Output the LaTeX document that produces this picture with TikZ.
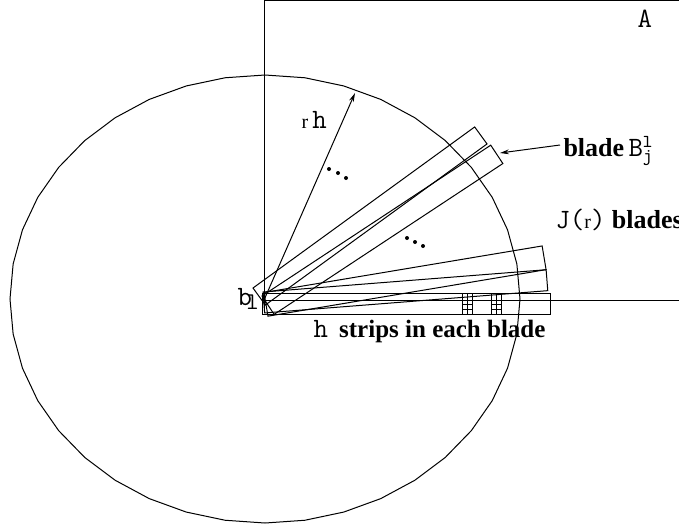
\documentclass[tikz,border=0pt]{standalone}
\usepackage{fontspec}
\setmainfont{Liberation Serif}
\usetikzlibrary{arrows.meta}

\begin{document}
\begin{tikzpicture}[
  x=0.5pt, y=-0.5pt, line width=0.5pt,
  blade/.style={draw},
  lbl/.style={font=\fontsize{13}{15}\selectfont, inner sep=0pt},
  mono/.style={font=\fontsize{14}{16}\selectfont\ttfamily},
  dot/.style={radius=2},
  pointer/.style={-{Stealth[length=4.5pt,width=2.4pt]}}
]
  \useasboundingbox (0,0) rectangle (679,531);

  % Region A and its axes
  \coordinate (O) at (264,300);
  \draw (264,0) -- (264,313);
  \draw (264,0) -- (679,0);
  \draw (O) -- (679,300);

  % Ball of radius r h
  \draw plot[samples=41, domain=0:360] ({265+255*cos(\x)},{299+224*sin(\x)}) -- cycle;

  % Blades
  \draw[blade, shift={(262,293)}] (0,0) rectangle (288,21);
  \draw[blade, shift={(263,292)}, rotate=4.5] (0,0) rectangle (284,21);
  \draw[blade, shift={(264,292.5)}, rotate=9.5] (0,0) rectangle (282,24);
  \draw[blade, shift={(262,296)}, rotate=33.4] (0,0) rectangle (274,22);
  \draw[blade, shift={(253,288)}, rotate=36] (0,0) rectangle (274,21);

  % Strips in the horizontal blade
  \foreach \sx in {462,491} {
    \foreach \dx in {0,5,10} \draw (\sx+\dx,293) -- (\sx+\dx,314);
    \foreach \sy in {304,309} \draw (\sx,\sy) -- (\sx+10,\sy);
  }

  % Dots between the blades
  \foreach \px/\py in {329/169, 338/173, 346/178, 407/238, 415/242, 423/246}
    \fill (\px,\py) circle[dot];

  % Radius
  \coordinate (rtip) at (355,93);
  \draw[pointer] (O) -- (rtip);

  % Labels
  \node[lbl, mono, anchor=base west] (alabel) at (637,27) {A};
  \node[lbl, anchor=base west] (rh) at (301,128) {{\fontsize{10}{12}\selectfont r}\,{\fontsize{14}{16}\selectfont\ttfamily h}};
  \node[lbl, mono, anchor=base west] (bl) at (237,305) {b\kern-0.2em\raisebox{-0.35ex}{\fontsize{12}{14}\selectfont l}};
  \node[lbl, anchor=base west] (jr) at (555,228) {{\fontsize{14}{16}\selectfont\ttfamily J(}{\fontsize{10}{12}\selectfont r}{\fontsize{14}{16}\selectfont\ttfamily)} \textbf{blades}};
  \node[lbl, anchor=base west, font=\fontsize{12.5}{15}\selectfont] (strips) at (313,337) {{\fontsize{14}{16}\selectfont\ttfamily h}\hspace{0.45em}\textbf{strips in each blade}};
  \node[lbl, anchor=base west] (bladelbl) at (563,156) {\textbf{blade}\,{\fontsize{14}{16}\selectfont\ttfamily B}$^{\mathtt{l}}_{\mathtt{j}}$};

  \coordinate (bladetip) at (500,153);
  \draw[pointer] ([shift={(-3,-11)}]bladelbl.base west) -- (bladetip);
\end{tikzpicture}
\end{document}
